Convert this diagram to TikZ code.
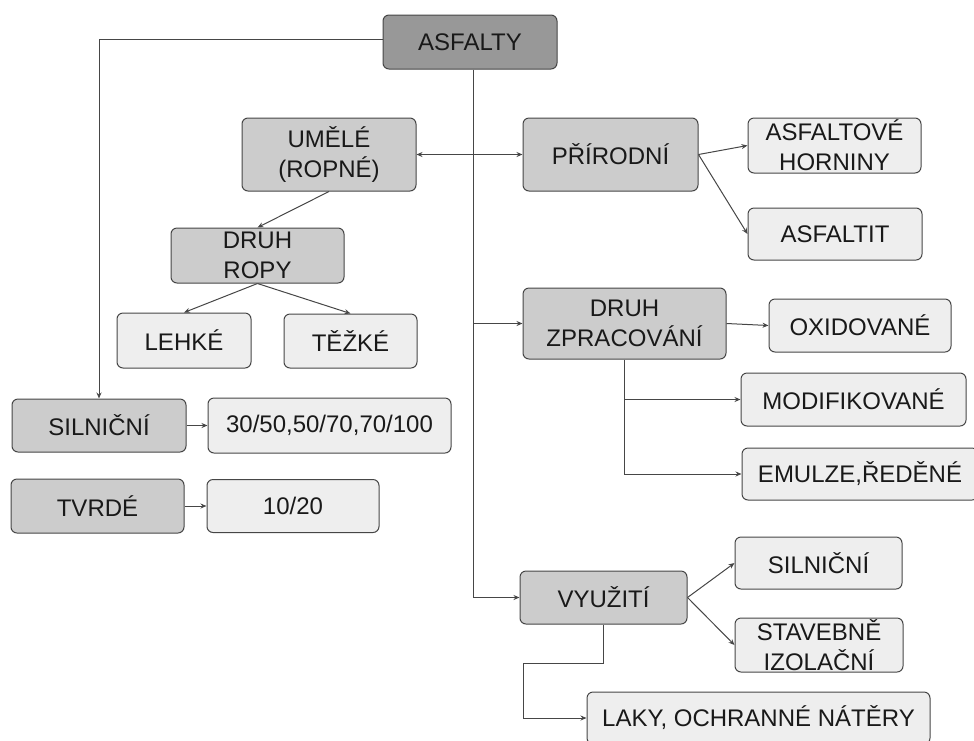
\documentclass[tikz,border=0pt]{standalone}
\usepackage{fontspec}
\setmainfont{Liberation Sans}
\usetikzlibrary{arrows.meta,positioning,calc}
\definecolor{tiertop}{RGB}{152,152,152}
\definecolor{tiermid}{RGB}{204,204,204}
\definecolor{tierleaf}{RGB}{238,238,238}
\definecolor{edgegray}{RGB}{70,70,70}

\begin{document}
\begin{tikzpicture}[x=1pt, y=-1pt, >={Stealth[length=6pt, width=5pt]},
  box/.style={draw=edgegray, rounded corners=6pt, line width=1pt, align=center,
    inner sep=0pt, text=black!90, font=\fontsize{24}{30}\selectfont},
  sz/.style 2 args={minimum width=#1pt, minimum height=#2pt},
  topk/.style={box, fill=tiertop},
  midk/.style={box, fill=tiermid},
  leafk/.style={box, fill=tierleaf},
  conn/.style={->, draw=edgegray, line width=1pt},
]
\useasboundingbox (0,0) rectangle (974,740);
% root
\node[topk, sz={174}{54}] (AS) at (470,42) {ASFALTY};
% first level
\node[midk, sz={174}{73}] (UM) at (329,154.5) {UMĚLÉ\\(ROPNÉ)};
\node[midk, sz={175}{73}] (PR) at (610.5,154.5) {PŘÍRODNÍ};
\node[midk, sz={203}{71}] (ZP) at (624.5,323.5) {DRUH\\ZPRACOVÁNÍ};
\node[midk, sz={167}{53}] (VY) at (603.5,597.5) {VYUŽITÍ};
% left branch
\node[midk, sz={173}{55}] (RO) at (257.5,255.5) {DRUH\\ROPY};
\node[leafk, sz={134}{55}] (LE) at (184,340.5) {LEHKÉ};
\node[leafk, sz={133}{54}] (TE) at (350.5,341) {TĚŽKÉ};
\node[midk, sz={174}{53}] (SIL) at (99,425.5) {SILNIČNÍ};
\node[leafk, sz={243}{55}, right=21pt of SIL] (SILV) {30/50,50/70,70/100};
\node[midk, sz={173}{54}] (TV) at (97.5,506) {TVRDÉ};
\node[leafk, sz={172}{53}, right=22pt of TV] (TVV) {10/20};
% right leaves
\node[leafk, sz={173}{55}] (AH) at (834.5,145.5) {ASFALTOVÉ\\HORNINY};
\node[leafk, sz={174}{52}] (AT) at (835,234) {ASFALTIT};
\node[leafk, sz={182}{53}] (OX) at (860,325.5) {OXIDOVANÉ};
\node[leafk, sz={225}{53}] (MO) at (853.5,399.5) {MODIFIKOVANÉ};
\node[leafk, sz={236}{52}] (EM) at (860,474) {EMULZE,ŘEDĚNÉ};
\node[leafk, sz={167}{52}] (SR) at (818.5,563) {SILNIČNÍ};
\node[leafk, sz={168}{54}] (ST) at (819,645) {STAVEBNĚ\\IZOLAČNÍ};
\node[leafk, sz={343}{52}] (LA) at (758.5,718) {LAKY, OCHRANNÉ NÁTĚRY};
\coordinate (VYb) at (523,663);

\draw[conn] ([yshift=3pt]AS.west) -| (SIL.north);
\draw[conn] ([xshift=3pt]AS.south) |- (VY.west);
\draw[conn] ([xshift=3pt]AS.south |- UM.east) -- (UM.east);
\draw[conn] ([xshift=3pt]AS.south |- PR.west) -- (PR.west);
\draw[conn] ([xshift=3pt]AS.south |- ZP.west) -- (ZP.west);
\draw[conn] (UM.south) -- (RO.north);
\draw[conn] (RO.south) -- (LE.north);
\draw[conn] (RO.south) -- (TE.north);
\draw[conn] (SIL.east) -- (SILV.west);
\draw[conn] (TV.east) -- (TVV.west);
\draw[conn] (PR.east) -- (AH.west);
\draw[conn] (PR.east) -- (AT.west);
\draw[conn] (ZP.east) -- (OX.west);
\draw[conn] (ZP.south) |- (EM.west);
\draw[conn] (ZP.south |- MO.west) -- (MO.west);
\draw[conn] (VY.east) -- (SR.west);
\draw[conn] (VY.east) -- (ST.west);
\draw[conn] (VY.south) |- (VYb) |- (LA.west);
\end{tikzpicture}
\end{document}
